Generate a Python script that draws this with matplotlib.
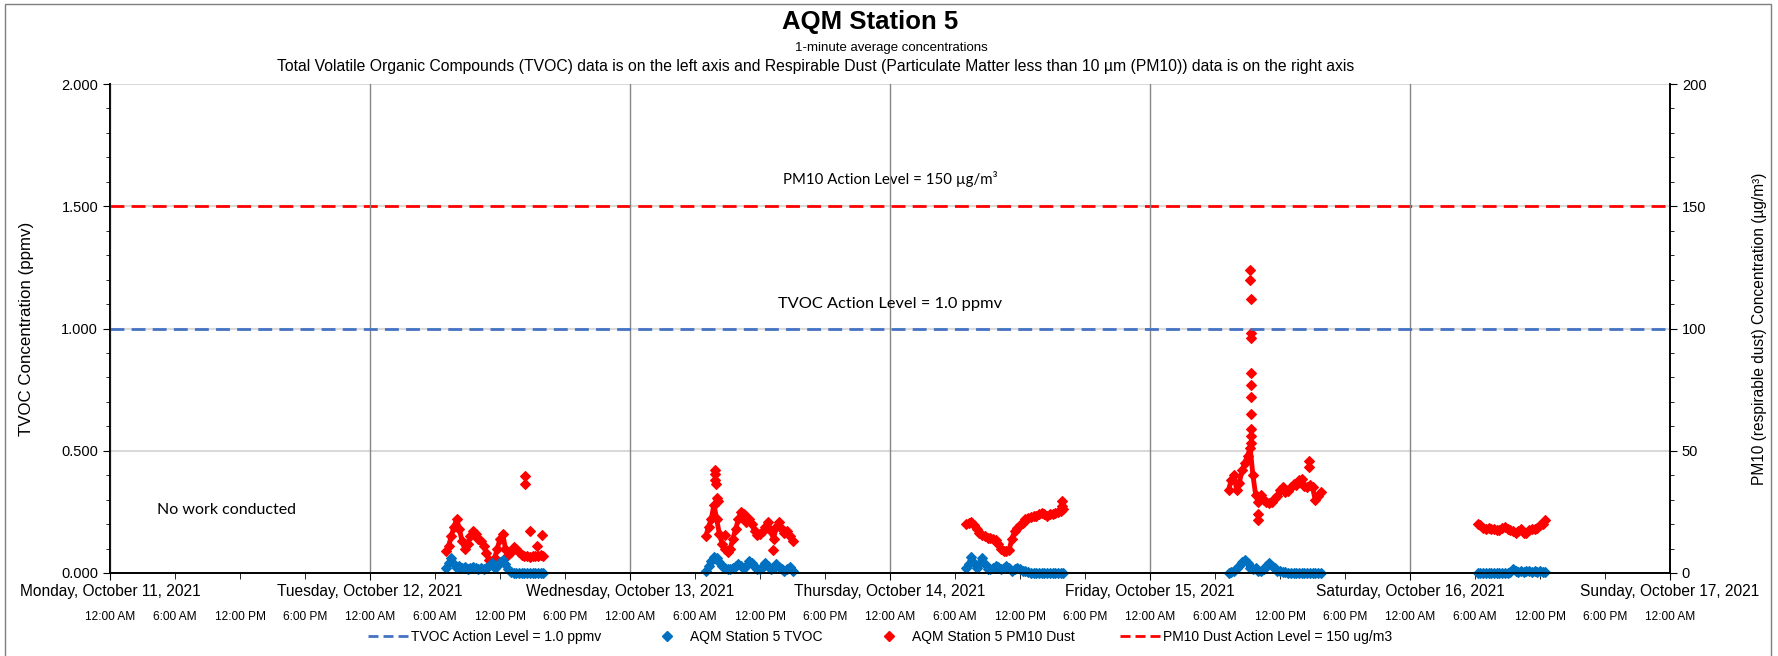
import numpy as np
import pandas as pd
import matplotlib
matplotlib.use('Agg')
import matplotlib.pyplot as plt
import matplotlib.dates as mdates
import matplotlib.transforms as mtransforms
from matplotlib.lines import Line2D
from matplotlib.patches import Rectangle
from matplotlib.ticker import MultipleLocator, FormatStrFormatter, FuncFormatter

plt.rcParams['font.family'] = ['Liberation Sans', 'DejaVu Sans']

# readings taken off the chart every 15 minutes during each work day
tue_start = '2021-10-12 07:00'
tue_tvoc = [0.02, 0.04, 0.06, 0.035, 0.02, 0.03, 0.02, 0.025, 0.015, 0.02, 0.025, 0.02, 0.015,
            0.02, 0.015, 0.02, 0.03, 0.04, 0.02, 0.03, 0.045, 0.055, 0.035, 0.015, 0.005,
            0, 0, 0, 0, 0, 0, 0, 0, 0, 0, 0, 0]
tue_pm10 = [9, 11, 15, 19, 22, 18, 13, 10, 12, 15, 17, 16, 14, 13, 11, 8, 5.5, 4, 6, 10,
            14, 16, 10, 7.5, 8.5, 10.5, 10, 8.5, 7.5, 7, 7, 6.5, 7, 7, 7, 7.5, 7]

wed_start = '2021-10-13 07:00'
wed_tvoc = [0.01, 0.03, 0.05, 0.065, 0.06, 0.045, 0.03, 0.02, 0.015, 0.015, 0.02, 0.03, 0.035,
            0.03, 0.02, 0.03, 0.05, 0.04, 0.025, 0.015, 0.015, 0.025, 0.04, 0.03, 0.015,
            0.02, 0.035, 0.025, 0.015, 0.01, 0.015, 0.025, 0.01]
wed_pm10 = [15, 19, 22, 28, 22, 16, 12, 10, 8.5, 10, 14, 18, 22, 25, 24, 21, 22, 20, 17, 15.5,
            16, 17, 19, 21, 17, 14, 19, 21, 18, 16.5, 17, 15, 13]

thu_start = '2021-10-14 07:00'
thu_tvoc = [0.02, 0.035, 0.065, 0.04, 0.02, 0.035, 0.06, 0.035, 0.015, 0.015, 0.02, 0.03, 0.025,
            0.015, 0.02, 0.03, 0.02, 0.01, 0.015, 0.02, 0.015, 0.01, 0.01, 0.005,
            0, 0, 0, 0, 0, 0, 0, 0, 0, 0, 0, 0, 0]
thu_pm10 = [20, 20.5, 21, 19.5, 18, 16.5, 15.5, 15, 14.5, 14.5, 14, 13.5, 12, 10, 9, 9, 9.5, 14,
            17, 18.5, 19.5, 20.5, 22, 22.5, 23, 23.5, 23.5, 24, 24.5, 24, 23.5, 24, 24, 24.5,
            25, 25.5, 26]

fri_start = '2021-10-15 07:15'
fri_tvoc = [0.0, 0.005, 0.01, 0.02, 0.03, 0.045, 0.055, 0.04, 0.02, 0.015, 0.02, 0.01, 0.01,
            0.015, 0.03, 0.04, 0.03, 0.02, 0.01, 0.01, 0.005, 0.005,
            0, 0, 0, 0, 0, 0, 0, 0, 0, 0, 0, 0, 0]
fri_pm10 = [34, 38, 40, 34, 37, 42, 45, 48, 51, 40, 32, 29, 32, 30, 29, 28.5, 29, 30.5, 31.5,
            34, 35, 33, 33.5, 35, 36.5, 36, 38, 38.5, 35.5, 35, 36, 35, 30, 31.5, 33]

sat_start = '2021-10-16 06:15'
sat_tvoc = [0, 0, 0, 0, 0, 0, 0, 0, 0, 0, 0, 0, 0.005, 0.015, 0.01, 0.005, 0.01, 0.005,
            0.01, 0.01, 0.005, 0.01, 0.005, 0.01, 0.005, 0.005]
sat_pm10 = [20, 19.5, 18.5, 18, 18.5, 18, 18, 17.5, 17.5, 18.5, 19, 18, 17.5, 17, 16.5, 17,
            18, 16.5, 16.5, 17.5, 18, 18, 18.5, 19.5, 20, 21.5]

# single high minutes that stand apart from the main band
spike_times = ['2021-10-12 14:18', '2021-10-12 14:20', '2021-10-12 14:48', '2021-10-12 15:24',
               '2021-10-12 15:51',
               '2021-10-13 07:48', '2021-10-13 07:50', '2021-10-13 07:52', '2021-10-13 07:54',
               '2021-10-13 08:03', '2021-10-13 08:06', '2021-10-13 08:45', '2021-10-13 13:12',
               '2021-10-14 15:51', '2021-10-14 15:54',
               '2021-10-15 09:16', '2021-10-15 09:16', '2021-10-15 09:17', '2021-10-15 09:17',
               '2021-10-15 09:17', '2021-10-15 09:18', '2021-10-15 09:18', '2021-10-15 09:18',
               '2021-10-15 09:19', '2021-10-15 09:19', '2021-10-15 09:20', '2021-10-15 09:20',
               '2021-10-15 09:57', '2021-10-15 09:58', '2021-10-15 14:42', '2021-10-15 14:43']
spike_pm10 = [39.7, 36.4, 17.3, 11, 15.5,
              42, 40.5, 38, 36.5, 30.5, 29.5, 15.5, 9.5,
              29.5, 27.5,
              124, 120, 112, 98, 96, 82, 77, 72, 65, 59, 56, 53,
              21.7, 24, 46, 43.5]

tvoc_action = 1.0
pm10_action = 150

days = [(tue_start, tue_tvoc, tue_pm10), (wed_start, wed_tvoc, wed_pm10),
        (thu_start, thu_tvoc, thu_pm10), (fri_start, fri_tvoc, fri_pm10),
        (sat_start, sat_tvoc, sat_pm10)]

x0 = pd.Timestamp('2021-10-11 00:00')
x1 = pd.Timestamp('2021-10-17 00:00')
spike_t = pd.to_datetime(spike_times)

blue = '#0070c0'
red = '#ff0000'
dash_blue = '#4472c4'
ms = 5.4

fig = plt.figure(figsize=(17.78, 6.56), dpi=100)
ax = fig.add_axes([110 / 1778, 1 - 573 / 656, 1560 / 1778, 489 / 656])
ax2 = ax.twinx()
ax.set_zorder(ax2.get_zorder() + 1)
ax.patch.set_visible(False)

# each work day: 1-minute band drawn as dense diamonds
for start, tv, pm in days:
    t = pd.date_range(start, periods=len(tv), freq='15min')
    ax2.plot(t, pm, '-', color=red, lw=3.5, solid_capstyle='round', clip_on=False)
    ax2.plot(t, pm, 'D', color=red, ms=ms, mew=0.8, clip_on=False)
    ax.plot(t, tv, '-', color=blue, lw=3.5, solid_capstyle='round', clip_on=False)
    ax.plot(t, tv, 'D', color=blue, ms=ms, mew=0.8, clip_on=False)
ax2.plot(spike_t, spike_pm10, 'D', color=red, ms=ms, mew=0.8, linestyle='none', clip_on=False)

ax2.axhline(pm10_action, color=red, lw=2, dashes=(5, 2.6))
ax2.set_ylim(0, 200)
ax2.yaxis.set_major_locator(MultipleLocator(50))
ax2.yaxis.set_minor_locator(MultipleLocator(10))
ax2.grid(axis='y', color='#d9d9d9', lw=1.5)
ax2.set_axisbelow(True)

ax.axhline(tvoc_action, color=dash_blue, lw=2, dashes=(5, 2.6))
ax.set_ylim(0, 2.0)
ax.set_xlim(x0, x1)
ax.yaxis.set_major_locator(MultipleLocator(0.5))
ax.yaxis.set_minor_locator(MultipleLocator(0.1))
ax.yaxis.set_major_formatter(FormatStrFormatter('%.3f'))

ax.xaxis.set_major_locator(mdates.DayLocator())
ax.xaxis.set_minor_locator(mdates.HourLocator(byhour=[6, 12, 18]))


def day_label(v, pos):
    d = mdates.num2date(v)
    return d.strftime('%A, %B ') + str(d.day) + d.strftime(', %Y')


ax.xaxis.set_major_formatter(FuncFormatter(day_label))
ax.grid(axis='x', which='major', color='#868686', lw=1)

for a in (ax, ax2):
    a.spines['top'].set_visible(False)
    for s in ('left', 'right', 'bottom'):
        a.spines[s].set_color('black')
        a.spines[s].set_linewidth(1.2)
ax.tick_params(axis='x', which='major', direction='out', length=5, labelsize=11.2, pad=3)
ax.tick_params(axis='x', which='minor', direction='out', length=4)
ax.tick_params(axis='y', which='major', direction='out', length=5, labelsize=10.5)
ax.tick_params(axis='y', which='minor', direction='out', length=3)
ax2.tick_params(axis='y', which='major', direction='out', length=5, labelsize=10.5)
ax2.tick_params(axis='y', which='minor', direction='out', length=3)

# hour labels on a second row
trans = mtransforms.blended_transform_factory(ax.transData, ax.transAxes)
trans = mtransforms.offset_copy(trans, fig=fig, y=-44, units='dots')
for t in pd.date_range(x0, x1, freq='6h'):
    ax.text(mdates.date2num(t), 0, t.strftime('%I:%M %p').lstrip('0'), transform=trans,
            ha='center', va='center', fontsize=8.6)

ax.set_ylabel('TVOC Concentration (ppmv)', fontsize=12.2)
ax.yaxis.set_label_coords((34 - 110) / 1560, 0.5)
ax2.set_ylabel('PM10 (respirable dust) Concentration (µg/m³)', fontsize=11.2)
ax2.yaxis.set_label_coords((1752 - 110) / 1560, 0.5)

ann_font = ['Lato', 'DejaVu Sans']
ax2.text(pd.Timestamp('2021-10-14 00:00'), 161, 'PM10 Action Level = 150 µg/m³',
         ha='center', va='center', fontsize=10.8, family=ann_font)
ax.text(pd.Timestamp('2021-10-14 00:00'), 1.10, 'TVOC Action Level = 1.0 ppmv',
        ha='center', va='center', fontsize=11.8, family=ann_font)
ax.text(pd.Timestamp('2021-10-11 10:45'), 0.258, 'No work conducted',
        ha='center', va='center', fontsize=11.5, family=ann_font)

fig.text(870 / 1778, 1 - 22 / 656, 'AQM Station 5', ha='center', va='center',
         fontsize=18.5, fontweight='bold')
fig.text(891 / 1778, 1 - 48 / 656, '1-minute average concentrations', ha='center',
         va='center', fontsize=9.5)
fig.text(816 / 1778, 1 - 66.5 / 656,
         'Total Volatile Organic Compounds (TVOC) data is on the left axis and Respirable Dust '
         '(Particulate Matter less than 10 µm (PM10)) data is on the right axis',
         ha='center', va='center', fontsize=11.3)

handles = [
    Line2D([], [], color=dash_blue, lw=2, dashes=(3.6, 1.8)),
    Line2D([], [], color=blue, marker='D', ms=ms, linestyle='none'),
    Line2D([], [], color=red, marker='D', ms=ms, linestyle='none'),
    Line2D([], [], color=red, lw=2, dashes=(3.6, 1.8)),
]
labels = ['TVOC Action Level = 1.0 ppmv', 'AQM Station 5 TVOC', 'AQM Station 5 PM10 Dust',
          'PM10 Dust Action Level = 150 ug/m3']
fig.legend(handles, labels, loc='center', bbox_to_anchor=(0.495, 1 - 637 / 656), ncol=4,
           frameon=False, fontsize=10, handlelength=2.9, handletextpad=0.2, columnspacing=3.3)

fig.patches.append(Rectangle((5 / 1778, -0.05), 1766 / 1778, 1.05 - 4 / 656,
                             transform=fig.transFigure, fill=False, edgecolor='#7f7f7f', lw=1))

fig.savefig('out.png', dpi=100)
